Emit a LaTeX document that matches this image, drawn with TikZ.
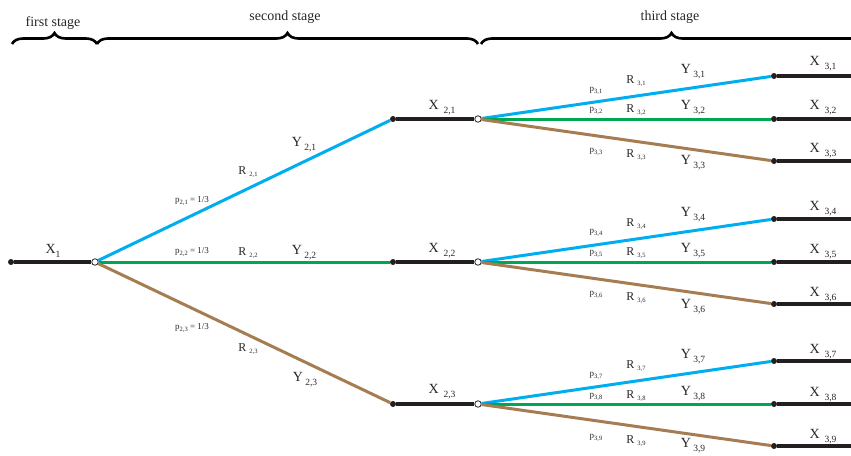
\documentclass[tikz,border=0pt]{standalone}
\usepackage{fontspec}
\setmainfont{Liberation Serif}
\usetikzlibrary{decorations.pathreplacing}

\definecolor{branchblue}{RGB}{0,174,239}
\definecolor{branchgreen}{RGB}{0,166,81}
\definecolor{branchbrown}{RGB}{166,124,82}
\definecolor{stemblack}{RGB}{35,31,32}

\newcommand{\xsub}[1]{\raisebox{-0.6ex}{\fontsize{9.5}{10}\selectfont #1}}
\newcommand{\rsub}[1]{\raisebox{-0.5ex}{\fontsize{6.5}{7}\selectfont #1}}
\newcommand{\psub}[1]{\raisebox{-0.4ex}{\fontsize{6.5}{7}\selectfont #1}}

\begin{document}
\begin{tikzpicture}[
    x=1pt,
    y=-1pt,
    stem/.style={
        line width=3.2pt,
        draw=stemblack
    },
    blueline/.style={
        line width=3pt,
        draw=branchblue
    },
    greenline/.style={
        line width=3pt,
        draw=branchgreen
    },
    brownline/.style={
        line width=3pt,
        draw=branchbrown
    },
    dot/.style={
        circle,
        fill=stemblack,
        inner sep=0pt,
        minimum size=6pt
    },
    hub/.style={
        circle,
        draw=stemblack,
        fill=white,
        line width=0.8pt,
        inner sep=0pt,
        minimum size=6.5pt
    },
    stagebrace/.style={
        decorate,
        decoration={brace, amplitude=11pt},
        line width=2.6pt,
        draw=black
    },
    stagelabel/.style={
        font=\fontsize{14}{16}\selectfont,
        text=black!85
    },
    xlabel/.style={
        font=\fontsize{14}{16}\selectfont,
        text=black!85,
        inner sep=0pt
    },
    rlabel/.style={
        font=\fontsize{12}{14}\selectfont,
        text=black!85,
        inner sep=0pt
    },
    plabel/.style={
        font=\fontsize{9}{10}\selectfont,
        text=black!85,
        inner sep=0pt
    }
]
\useasboundingbox (0,0) rectangle (851,455);

% Stage braces
\draw[stagebrace] (12,44) -- (97,44);
\draw[stagebrace] (97,44) -- (478,44);
\draw[stagebrace] (481,44) -- (862,44);
\node[stagelabel] (st1) at (53,23) {first stage};
\node[stagelabel] (st2) at (285,17) {second stage};
\node[stagelabel] (st3) at (670,17) {third stage};

% First stage
\node[dot] (x1) at (11,262) {};
\node[hub] (h1) at (95,262) {};
\draw[stem] (x1) -- (h1);

% Second stage points
\node[dot] (d21) at (393,119) {};
\node[dot] (d22) at (393,262) {};
\node[dot] (d23) at (393,404) {};
\node[hub] (h21) at (478,119) {};
\node[hub] (h22) at (478,262) {};
\node[hub] (h23) at (478,404) {};

% Second stage branches
\draw[blueline] (h1) -- (d21);
\draw[greenline] (h1) -- (d22);
\draw[brownline] (h1) -- (d23);
\draw[stem] (d21) -- (h21);
\draw[stem] (d22) -- (h22);
\draw[stem] (d23) -- (h23);

% Third stage points
\node[dot] (d31) at (774,76) {};
\node[dot] (d32) at (774,119) {};
\node[dot] (d33) at (774,161) {};
\node[dot] (d34) at (774,219) {};
\node[dot] (d35) at (774,262) {};
\node[dot] (d36) at (774,304) {};
\node[dot] (d37) at (774,361) {};
\node[dot] (d38) at (774,404) {};
\node[dot] (d39) at (774,446) {};
\coordinate (e31) at (851,76);
\coordinate (e32) at (851,119);
\coordinate (e33) at (851,161);
\coordinate (e34) at (851,219);
\coordinate (e35) at (851,262);
\coordinate (e36) at (851,304);
\coordinate (e37) at (851,361);
\coordinate (e38) at (851,404);
\coordinate (e39) at (851,446);

% Third stage branches
\draw[blueline] (h21) -- (d31);
\draw[greenline] (h21) -- (d32);
\draw[brownline] (h21) -- (d33);
\draw[blueline] (h22) -- (d34);
\draw[greenline] (h22) -- (d35);
\draw[brownline] (h22) -- (d36);
\draw[blueline] (h23) -- (d37);
\draw[greenline] (h23) -- (d38);
\draw[brownline] (h23) -- (d39);
\draw[stem] (d31) -- (e31);
\draw[stem] (d32) -- (e32);
\draw[stem] (d33) -- (e33);
\draw[stem] (d34) -- (e34);
\draw[stem] (d35) -- (e35);
\draw[stem] (d36) -- (e36);
\draw[stem] (d37) -- (e37);
\draw[stem] (d38) -- (e38);
\draw[stem] (d39) -- (e39);

% Labels, first and second stage
\node[xlabel] (lx1) at (53,251) {X\xsub{1}};
\node[plabel] (lp21) at (192,201) {p\psub{2,1} = 1/3};
\node[plabel] (lp22) at (192,252) {p\psub{2,2} = 1/3};
\node[plabel] (lp23) at (192,328) {p\psub{2,3} = 1/3};
\node[rlabel] (lr21) at (248,172) {R\hspace{0.25em}\rsub{2,1}};
\node[rlabel] (lr22) at (248,253) {R\hspace{0.25em}\rsub{2,2}};
\node[rlabel] (lr23) at (248,349) {R\hspace{0.25em}\rsub{2,3}};
\node[xlabel] (ly21) at (304,145) {Y\,\xsub{2,1}};
\node[xlabel] (ly22) at (304,253) {Y\,\xsub{2,2}};
\node[xlabel] (ly23) at (305,380) {Y\,\xsub{2,3}};
\node[xlabel] (lx21) at (442,108) {X\hspace{0.35em}\xsub{2,1}};
\node[xlabel] (lx22) at (442,251) {X\hspace{0.35em}\xsub{2,2}};
\node[xlabel] (lx23) at (442,392) {X\hspace{0.35em}\xsub{2,3}};

% Labels, third stage
\node[plabel] (lp31) at (596,91) {p\psub{3,1}};
\node[plabel] (lp32) at (596,111) {p\psub{3,2}};
\node[plabel] (lp33) at (596,152) {p\psub{3,3}};
\node[plabel] (lp34) at (596,233) {p\psub{3,4}};
\node[plabel] (lp35) at (596,254) {p\psub{3,5}};
\node[plabel] (lp36) at (596,295) {p\psub{3,6}};
\node[plabel] (lp37) at (596,376) {p\psub{3,7}};
\node[plabel] (lp38) at (596,397) {p\psub{3,8}};
\node[plabel] (lp39) at (596,438) {p\psub{3,9}};
\node[rlabel] (lr31) at (636,81) {R\hspace{0.25em}\rsub{3,1}};
\node[rlabel] (lr32) at (636,110) {R\hspace{0.25em}\rsub{3,2}};
\node[rlabel] (lr33) at (636,155) {R\hspace{0.25em}\rsub{3,3}};
\node[rlabel] (lr34) at (636,224) {R\hspace{0.25em}\rsub{3,4}};
\node[rlabel] (lr35) at (636,253) {R\hspace{0.25em}\rsub{3,5}};
\node[rlabel] (lr36) at (636,298) {R\hspace{0.25em}\rsub{3,6}};
\node[rlabel] (lr37) at (636,366) {R\hspace{0.25em}\rsub{3,7}};
\node[rlabel] (lr38) at (636,396) {R\hspace{0.25em}\rsub{3,8}};
\node[rlabel] (lr39) at (636,441) {R\hspace{0.25em}\rsub{3,9}};
\node[xlabel] (ly31) at (693,72) {Y\,\xsub{3,1}};
\node[xlabel] (ly32) at (693,108) {Y\,\xsub{3,2}};
\node[xlabel] (ly33) at (693,163) {Y\,\xsub{3,3}};
\node[xlabel] (ly34) at (693,215) {Y\,\xsub{3,4}};
\node[xlabel] (ly35) at (693,251) {Y\,\xsub{3,5}};
\node[xlabel] (ly36) at (693,307) {Y\,\xsub{3,6}};
\node[xlabel] (ly37) at (693,357) {Y\,\xsub{3,7}};
\node[xlabel] (ly38) at (693,394) {Y\,\xsub{3,8}};
\node[xlabel] (ly39) at (693,446) {Y\,\xsub{3,9}};
\node[xlabel] (lx31) at (823,64) {X\hspace{0.35em}\xsub{3,1}};
\node[xlabel] (lx32) at (823,108) {X\hspace{0.35em}\xsub{3,2}};
\node[xlabel] (lx33) at (823,151) {X\hspace{0.35em}\xsub{3,3}};
\node[xlabel] (lx34) at (823,209) {X\hspace{0.35em}\xsub{3,4}};
\node[xlabel] (lx35) at (823,252) {X\hspace{0.35em}\xsub{3,5}};
\node[xlabel] (lx36) at (823,295) {X\hspace{0.35em}\xsub{3,6}};
\node[xlabel] (lx37) at (823,352) {X\hspace{0.35em}\xsub{3,7}};
\node[xlabel] (lx38) at (823,395) {X\hspace{0.35em}\xsub{3,8}};
\node[xlabel] (lx39) at (823,437) {X\hspace{0.35em}\xsub{3,9}};

\end{tikzpicture}
\end{document}
